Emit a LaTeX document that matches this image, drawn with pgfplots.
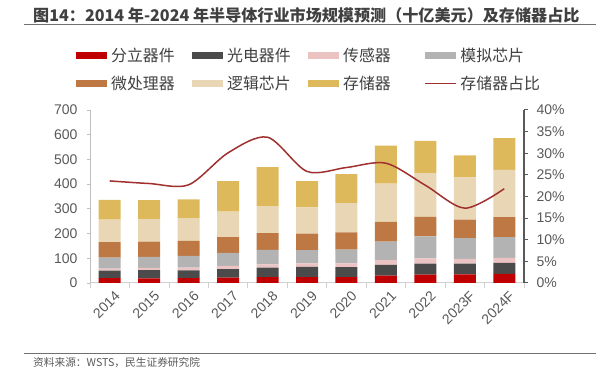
\documentclass[border=0pt]{standalone}
\usepackage{pgfplots}
\pgfplotsset{compat=1.18}
\usepackage{fontspec}
\setmainfont{Liberation Sans}
\newfontfamily\cjk{Noto Sans CJK SC}
\definecolor{cDis}{HTML}{C00000}
\definecolor{cOpto}{HTML}{4B4B4B}
\definecolor{cSen}{HTML}{EBC3C3}
\definecolor{cAna}{HTML}{B3B3B3}
\definecolor{cMic}{HTML}{BD7843}
\definecolor{cLog}{HTML}{E8D6B4}
\definecolor{cMem}{HTML}{DEB95C}
\definecolor{cLine}{HTML}{A0302E}
\definecolor{cTitle}{HTML}{404040}
\definecolor{cRule}{HTML}{707070}
\definecolor{cTick}{HTML}{595959}
\definecolor{cAxX}{HTML}{D0D0D0}
\definecolor{cAxY}{HTML}{BFBFBF}
\definecolor{cAxR}{HTML}{595959}
\pgfplotsset{
  barlegend/.style={legend image code/.code={\fill[##1] (0pt,-3.5pt) rectangle (31pt,3.5pt);}},
  linelegend/.style={legend image code/.code={\draw[##1] (0pt,0pt) -- (31pt,0pt);}},
}
\begin{document}
\begin{tikzpicture}
\useasboundingbox (0pt,0pt) rectangle (600pt,374pt);
\node[anchor=west, inner sep=0pt, text=cTitle] at (33pt,359pt) {\fontsize{16.1}{16.1}\selectfont\cjk\bfseries 图14：2014 年-2024 年半导体行业市场规模预测（十亿美元）及存储器占比};
\draw[cRule, line width=1.5pt] (24pt,349.5pt) -- (596pt,349.5pt);
\draw[cRule, line width=1.5pt] (24pt,20.7pt) -- (596pt,20.7pt);
\node[anchor=west, inner sep=0pt, text=cTick] at (33pt,11pt) {\fontsize{10.7}{10.7}\selectfont\cjk 资料来源：WSTS，民生证券研究院};

\begin{axis}[
  at={(90pt,91pt)}, anchor=south west,
  scale only axis, width=434pt, height=173pt,
  ybar stacked, bar width=22pt,
  xmin=-0.5, xmax=10.5, ymin=0, ymax=700,
  ytick={0,100,...,700},
  xtick={0,...,10},
  xticklabels={2014,2015,2016,2017,2018,2019,2020,2021,2022,2023F,2024F},
  extra x ticks={-0.5,0.5,...,10.5},
  extra x tick labels={},
  xtick style={draw=none},
  extra x tick style={every x tick/.style={draw=cAxX, line width=0.8pt}, major tick length=5pt},
  ytick style={draw=cAxY, line width=0.8pt},
  major tick length=3pt,
  tick align=outside,
  axis x line*=bottom, axis y line*=left,
  x axis line style={draw=cAxX, line width=1pt},
  y axis line style={draw=cAxY, line width=1pt},
  /pgf/number format/assume math mode=true,
  ticklabel style={font=\fontsize{14}{14}\selectfont, text=cTick},
  yticklabel style={xshift=-6pt},
  xticklabel style={rotate=45, anchor=north east, inner sep=2pt, yshift=-4pt, xshift=2pt},
  legend columns=4,
  legend style={at={(axis description cs:-0.0323,1.357)}, anchor=north west, draw=none, fill=none, inner sep=0pt,
     column sep=0pt, row sep=12.5pt, font=\fontsize{15.9}{15.9}\selectfont\cjk, text=cTitle,
     nodes={inner sep=0pt, anchor=west}},
  barlegend,
]
\addplot[fill=cDis, draw=none] coordinates {(0,20.2) (1,18.6) (2,19.4) (3,21.7) (4,24.1) (5,23.9) (6,23.8) (7,30.3) (8,34.1) (9,35.2) (10,36.6)};
\addlegendentry{\makebox[85pt][l]{\hspace{4pt}分立器件}}
\addplot[fill=cOpto, draw=none] coordinates {(0,29.9) (1,33.3) (2,31.9) (3,34.8) (4,38.0) (5,41.6) (6,40.4) (7,43.4) (8,43.9) (9,42.9) (10,44.5)};
\addlegendentry{\makebox[85pt][l]{\hspace{4pt}光电器件}}
\addplot[fill=cSen, draw=none] coordinates {(0,8.5) (1,8.8) (2,10.8) (3,12.6) (4,13.4) (5,13.5) (6,15.0) (7,19.1) (8,21.8) (9,19.1) (10,20.1)};
\addlegendentry{\makebox[85pt][l]{\hspace{4pt}传感器}}
\addplot[fill=cAna, draw=none] coordinates {(0,44.4) (1,45.2) (2,47.8) (3,53.1) (4,58.8) (5,53.9) (6,55.7) (7,74.1) (8,89.0) (9,84.0) (10,84.5)};
\addlegendentry{\makebox[85pt][l]{\hspace{4pt}模拟芯片}}
\addplot[fill=cMic, draw=none] coordinates {(0,62.1) (1,61.3) (2,60.6) (3,63.9) (4,67.2) (5,66.4) (6,69.7) (7,80.2) (8,79.1) (9,74.9) (10,80.5)};
\addlegendentry{\makebox[85pt][l]{\hspace{4pt}微处理器}}
\addplot[fill=cLog, draw=none] coordinates {(0,91.6) (1,90.8) (2,91.5) (3,102.2) (4,109.3) (5,106.5) (6,118.4) (7,154.8) (8,176.9) (9,171.3) (10,192.0)};
\addlegendentry{\makebox[85pt][l]{\hspace{4pt}逻辑芯片}}
\addplot[fill=cMem, draw=none] coordinates {(0,79.2) (1,77.2) (2,76.8) (3,124.0) (4,158.0) (5,106.4) (6,117.5) (7,153.8) (8,129.8) (9,89.2) (10,127.5)};
\addlegendentry{\makebox[85pt][l]{\hspace{4pt}存储器}}
\addlegendimage{draw=cLine, line width=1.3pt, linelegend}
\addlegendentry{\makebox[85pt][l]{\hspace{4pt}存储器占比}}
\end{axis}

\begin{axis}[
  at={(90pt,91pt)}, anchor=south west,
  scale only axis, width=434pt, height=173pt,
  xmin=-0.5, xmax=10.5, ymin=0, ymax=40,
  axis y line*=right, axis x line=none,
  ytick={0,5,...,40},
  yticklabel={\pgfmathprintnumber{\tick}\%},
  ytick style={draw=cAxR, line width=1pt},
  major tick length=4pt,
  tick align=outside,
  y axis line style={draw=cAxR, line width=1.3pt},
  /pgf/number format/assume math mode=true,
  ticklabel style={font=\fontsize{14}{14}\selectfont, text=cTick},
  yticklabel style={xshift=5pt},
]
\addplot[smooth, color=cLine, line width=1.5pt, mark=none] coordinates {(0,23.6) (1,23.0) (2,22.7) (3,30.1) (4,33.7) (5,25.8) (6,26.7) (7,27.7) (8,22.6) (9,17.3) (10,21.8)};
\end{axis}
\end{tikzpicture}
\end{document}
